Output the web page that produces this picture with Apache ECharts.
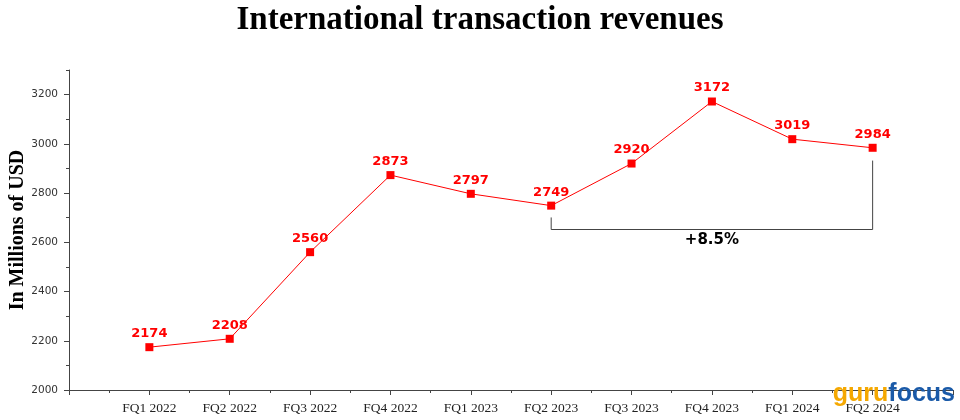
<!DOCTYPE html>
<html>
<head>
<meta charset="utf-8">
<script src="https://cdn.jsdelivr.net/npm/echarts@6/dist/echarts.min.js"></script>
<style>html,body{margin:0;padding:0;background:#fff}#c{width:960px;height:420px}</style>
</head>
<body>
<div id="c"></div>
<script>
var categories = ['FQ1 2022','FQ2 2022','FQ3 2022','FQ4 2022','FQ1 2023','FQ2 2023','FQ3 2023','FQ4 2023','FQ1 2024','FQ2 2024'];
var revenues = [2174, 2208, 2560, 2873, 2797, 2749, 2920, 3172, 3019, 2984];
var yTicks = [2000, 2200, 2400, 2600, 2800, 3000, 3200];

var chart = echarts.init(document.getElementById('c'));
var pts = revenues.map(function(v, i){ return [i + 1, v]; });
var a = 6, b = 10; // FQ2 2023 -> FQ2 2024
var va = revenues[a-1], vb = revenues[b-1];
var pct = ((vb / va - 1) * 100).toFixed(1);
var base = va - 97;
var bracket = [[a, va - 48], [a, base], [b, base], [b, vb - 52]];

chart.setOption({
  animation: false,
  title: {
    text: 'International transaction revenues', left: 'center', top: -1,
    textStyle: {fontFamily: 'Liberation Serif', fontWeight: 'bold', fontSize: 33, color: '#000'}
  },
  grid: {left: 69, right: 7, top: 70, bottom: 30, outerBoundsMode: 'none', containLabel: false},
  xAxis: {
    type: 'value', min: 0, max: 11, interval: 1,
    axisLine: {show: true, lineStyle: {color: '#444', width: 1}},
    axisTick: {show: true, length: 5, lineStyle: {color: '#444'}},
    minorTick: {show: true, splitNumber: 2, length: 3, lineStyle: {color: '#444'}},
    splitLine: {show: false},
    axisLabel: {
      formatter: function(v){ return categories[v - 1] || ''; },
      fontFamily: 'Liberation Serif', fontSize: 13.5, color: '#222', margin: 11,
      showMinLabel: true, showMaxLabel: true
    }
  },
  yAxis: [{
    type: 'value', min: 2000, max: 3300, interval: 200,
    name: 'In Millions of USD', nameLocation: 'middle', nameGap: 41, nameRotate: 90,
    nameMoveOverlap: false,
    nameTextStyle: {fontFamily: 'Liberation Serif', fontWeight: 'bold', fontSize: 20, color: '#000'},
    axisLine: {show: true, lineStyle: {color: '#444', width: 1}},
    axisTick: {show: true, length: 5, lineStyle: {color: '#444'}},
    splitLine: {show: false},
    axisLabel: {
      formatter: function(v){ return yTicks.indexOf(v) >= 0 ? String(v) : ''; },
      fontFamily: 'DejaVu Sans', fontSize: 10.5, color: '#333', margin: 11, showMaxLabel: false
    }
  }, {
    type: 'value', min: 2000, max: 3300, interval: 100, position: 'left',
    axisLine: {show: false}, axisLabel: {show: false}, splitLine: {show: false},
    axisTick: {show: true, length: 3, lineStyle: {color: '#444'}}
  }],
  series: [{
    type: 'line', data: pts, symbol: 'rect', symbolSize: 8,
    itemStyle: {color: '#ff0000'}, lineStyle: {color: '#ff0000', width: 1},
    label: {show: true, position: 'top', distance: 3, color: '#ff0000', fontWeight: 'bold',
      fontSize: 13, fontFamily: 'DejaVu Sans'},
    z: 3
  }, {
    type: 'line', data: bracket, symbol: 'none', silent: true,
    lineStyle: {color: '#444', width: 1}, z: 2
  }, {
    type: 'scatter', data: [[(a + b) / 2, base]], symbolSize: 1, silent: true,
    itemStyle: {color: 'rgba(0,0,0,0)', opacity: 1},
    label: {show: true, position: 'bottom', distance: 3, formatter: '+' + pct + '%',
      color: '#000', fontWeight: 'bold', fontSize: 15, fontFamily: 'DejaVu Sans', opacity: 1}
  }],
  graphic: [{
    type: 'text', right: 5, bottom: 13, z: 100,
    style: {
      rich: {
        g: {fill: '#f5a800', fontSize: 25, fontWeight: 'bold', fontFamily: 'Liberation Sans'},
        f: {fill: '#1a5aa8', fontSize: 25, fontWeight: 'bold', fontFamily: 'Liberation Sans'}
      },
      text: '{g|guru}{f|focus}'
    }
  }]
});
</script>
</body>
</html>
